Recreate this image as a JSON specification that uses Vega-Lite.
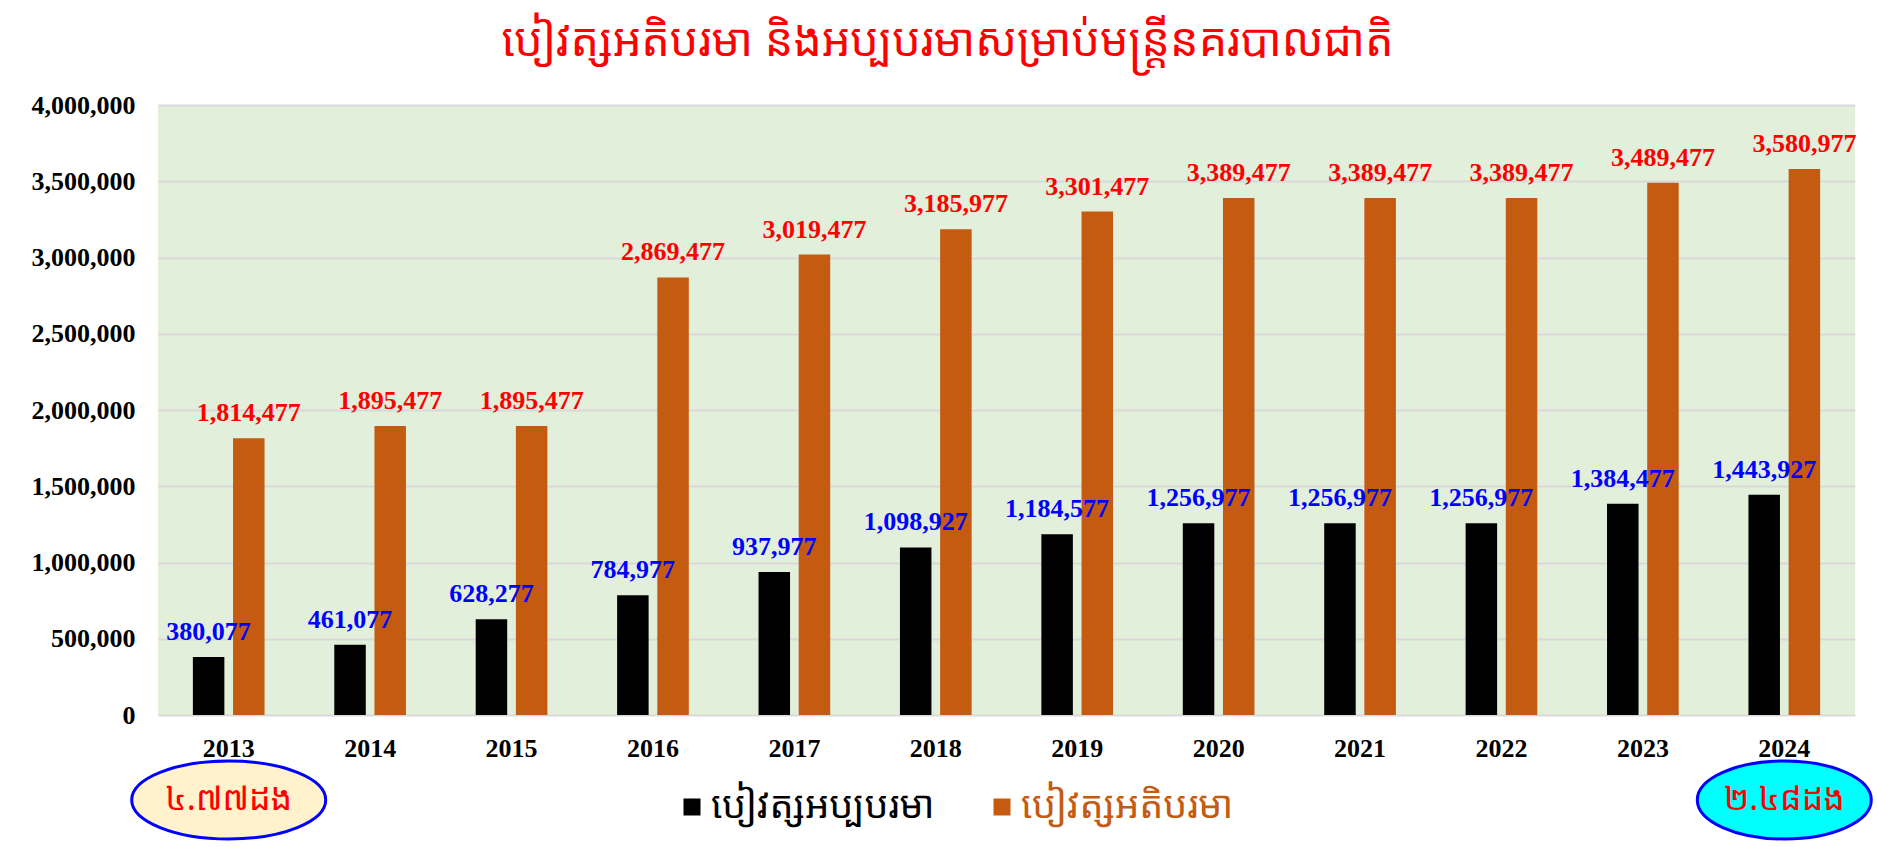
{
  "$schema": "https://vega.github.io/schema/vega-lite/v6.json",
  "width": 1697,
  "height": 610,
  "autosize": {"type": "none"},
  "padding": {"left": 158, "top": 105, "right": 22, "bottom": 132},
  "background": "#FFFFFF",
  "title": {
    "text": "បៀវត្សអតិបរមា និងអប្បបរមាសម្រាប់មន្ត្រីនគរបាលជាតិ",
    "color": "#FF0000",
    "fontSize": 45,
    "fontWeight": "normal",
    "font": "Noto Sans Khmer, Khmer OS, Noto Sans, sans-serif",
    "anchor": "middle",
    "frame": "group",
    "dx": -59,
    "baseline": "alphabetic",
    "offset": -9
  },
  "config": {
    "view": {"fill": "#E2EFDA", "stroke": null},
    "numberFormat": ",",
    "axisY": {
      "title": null, "grid": true, "gridColor": "#D9D9D9", "gridWidth": 2,
      "domain": false, "ticks": false, "labelPadding": 23,
      "labelFont": "Liberation Serif", "labelFontWeight": "bold",
      "labelFontSize": 26, "labelColor": "#000000"
    }
  },
  "datasets": {
    "wages": [
      {"year": "2013", "series": "បៀវត្សអប្បបរមា", "value": 380077},
      {"year": "2013", "series": "បៀវត្សអតិបរមា", "value": 1814477},
      {"year": "2014", "series": "បៀវត្សអប្បបរមា", "value": 461077},
      {"year": "2014", "series": "បៀវត្សអតិបរមា", "value": 1895477},
      {"year": "2015", "series": "បៀវត្សអប្បបរមា", "value": 628277},
      {"year": "2015", "series": "បៀវត្សអតិបរមា", "value": 1895477},
      {"year": "2016", "series": "បៀវត្សអប្បបរមា", "value": 784977},
      {"year": "2016", "series": "បៀវត្សអតិបរមា", "value": 2869477},
      {"year": "2017", "series": "បៀវត្សអប្បបរមា", "value": 937977},
      {"year": "2017", "series": "បៀវត្សអតិបរមា", "value": 3019477},
      {"year": "2018", "series": "បៀវត្សអប្បបរមា", "value": 1098927},
      {"year": "2018", "series": "បៀវត្សអតិបរមា", "value": 3185977},
      {"year": "2019", "series": "បៀវត្សអប្បបរមា", "value": 1184577},
      {"year": "2019", "series": "បៀវត្សអតិបរមា", "value": 3301477},
      {"year": "2020", "series": "បៀវត្សអប្បបរមា", "value": 1256977},
      {"year": "2020", "series": "បៀវត្សអតិបរមា", "value": 3389477},
      {"year": "2021", "series": "បៀវត្សអប្បបរមា", "value": 1256977},
      {"year": "2021", "series": "បៀវត្សអតិបរមា", "value": 3389477},
      {"year": "2022", "series": "បៀវត្សអប្បបរមា", "value": 1256977},
      {"year": "2022", "series": "បៀវត្សអតិបរមា", "value": 3389477},
      {"year": "2023", "series": "បៀវត្សអប្បបរមា", "value": 1384477},
      {"year": "2023", "series": "បៀវត្សអតិបរមា", "value": 3489477},
      {"year": "2024", "series": "បៀវត្សអប្បបរមា", "value": 1443927},
      {"year": "2024", "series": "បៀវត្សអតិបរមា", "value": 3580977}
    ],
    "notes": [
      {"year": "2013", "note": "៤.៧៧ដង"},
      {"year": "2024", "note": "២.៤៨ដង"}
    ]
  },
  "layer": [
    {
      "data": {"name": "wages"},
      "mark": {"type": "bar"},
      "encoding": {
        "x": {
          "field": "year", "type": "nominal",
          "scale": {"paddingInner": 0, "paddingOuter": 0},
          "axis": {
            "title": null, "labelAngle": 0, "ticks": false, "domain": false, "grid": false,
            "labelPadding": 20, "labelFont": "Liberation Serif", "labelFontWeight": "bold",
            "labelFontSize": 26, "labelColor": "#000000"
          }
        },
        "xOffset": {
          "field": "series", "type": "nominal",
          "sort": ["បៀវត្សអប្បបរមា", "បៀវត្សអតិបរមា"],
          "scale": {"paddingInner": 0.216, "paddingOuter": 0.868}
        },
        "y": {
          "field": "value", "type": "quantitative",
          "scale": {"domain": [0, 4000000], "nice": false},
          "axis": {
            "title": null,
            "values": [0, 500000, 1000000, 1500000, 2000000, 2500000, 3000000, 3500000, 4000000],
            "labelExpr": "format(datum.value, ',')"
          }
        },
        "color": {
          "field": "series", "type": "nominal",
          "scale": {"domain": ["បៀវត្សអប្បបរមា", "បៀវត្សអតិបរមា"], "range": ["#000000", "#C55A11"]},
          "legend": {
            "orient": "none", "legendX": 515, "legendY": 683, "direction": "horizontal",
            "title": null, "symbolType": "square", "symbolSize": 289, "symbolStrokeWidth": 0,
            "labelFontSize": 38, "labelFont": "Noto Sans Khmer, Khmer OS, Noto Sans, sans-serif",
            "labelLimit": 0, "labelOffset": 0, "columnPadding": 48, "padding": 0,
            "encode": {
              "labels": {"update": {"fill": {"signal": "datum.value === 'បៀវត្សអប្បបរមា' ? '#000000' : '#C55A11'"}}}
            }
          }
        }
      }
    },
    {
      "data": {"name": "wages"},
      "mark": {"type": "text", "baseline": "alphabetic", "align": "center", "dy": -17,
               "font": "Liberation Serif", "fontWeight": "bold", "fontSize": 26},
      "encoding": {
        "x": {"field": "year", "type": "nominal"},
        "xOffset": {"field": "series", "type": "nominal", "sort": ["បៀវត្សអប្បបរមា", "បៀវត្សអតិបរមា"]},
        "y": {"field": "value", "type": "quantitative"},
        "text": {"field": "value", "type": "quantitative", "format": ","},
        "color": {
          "condition": {"test": "datum.series === 'បៀវត្សអប្បបរមា'", "value": "#0000FF"},
          "value": "#FF0000"
        }
      }
    },
    {
      "data": {"name": "notes"},
      "mark": {"type": "point", "filled": true, "size": 4, "stroke": "#0000FF", "strokeWidth": 3, "opacity": 1},
      "encoding": {
        "x": {"field": "year", "type": "nominal"},
        "y": {"datum": -557000, "type": "quantitative"},
        "fill": {
          "condition": {"test": "datum.year === '2013'", "value": "#FFF2CC"},
          "value": "#00FFFF"
        },
        "shape": {
          "condition": {"test": "datum.year === '2013'", "value": "M -97 0 A 97 39 0 1 0 97 0 A 97 39 0 1 0 -97 0 Z"},
          "value": "M -87 0 A 87 39 0 1 0 87 0 A 87 39 0 1 0 -87 0 Z"
        }
      }
    },
    {
      "data": {"name": "notes"},
      "mark": {"type": "text", "baseline": "middle", "align": "center", "fontSize": 34,
               "font": "Noto Sans Khmer, Khmer OS, Noto Sans, sans-serif", "color": "#FF0000"},
      "encoding": {
        "x": {"field": "year", "type": "nominal"},
        "y": {"datum": -557000, "type": "quantitative"},
        "text": {"field": "note", "type": "nominal"}
      }
    }
  ]
}
